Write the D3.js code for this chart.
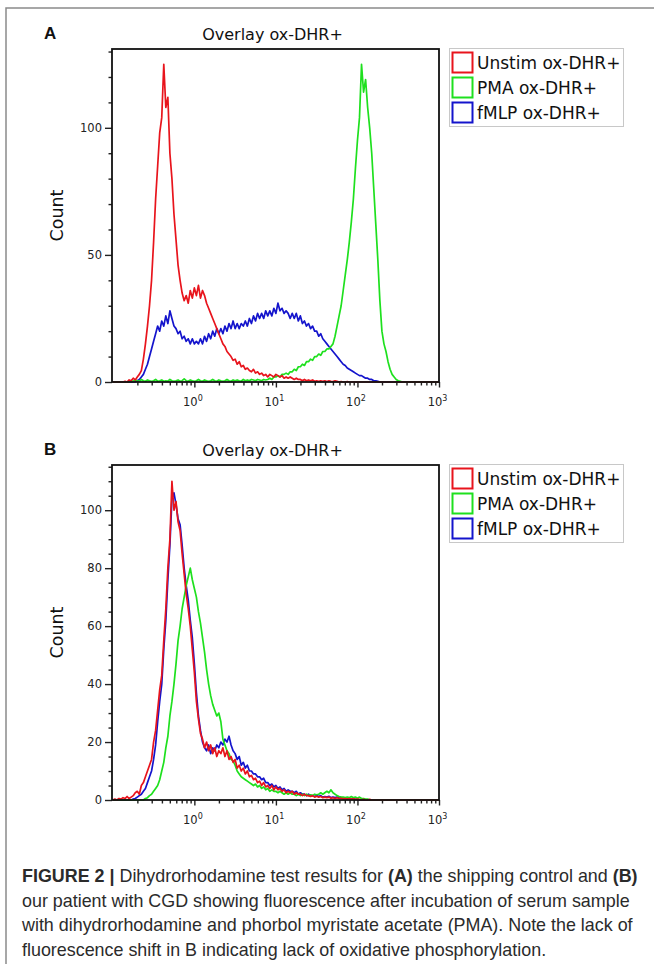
<!DOCTYPE html>
<html>
<head>
<meta charset="utf-8">
<script src="https://cdn.jsdelivr.net/npm/d3@7"></script>
<style>
  body { margin: 0; background: #fff; }
  svg { display: block; }
</style>
</head>
<body>
<svg id="fig" width="654" height="964"></svg>
<script>
// histogram channels: one bin every 0.025 decade, starting at 10^-1
const logStart = -1, logStep = 0.025;

const seriesNames = ["Unstim ox-DHR+", "PMA ox-DHR+", "fMLP ox-DHR+"];
const seriesColors = ["#e8141c", "#1ee01e", "#1414cc"];

// panel A - shipping control
const unstimA = [
  0,0,0,0,0,0,0.3,0,0.8,0.5,
  1.5,0.8,2,3,4.5,9,15,22,30,40,
  55,72,85,98,104,125,108,112,90,80,
  66,56,46,40,35,32,34,31,36,33,
  37,34,38,33,36,34,31,29,27,25,
  23,21,19,17,15,14,12,11,10,8.5,
  9,7,8,6,6.5,5,5.5,4.5,4,5,
  3.5,4,3,3.5,2.5,3,2,3,2.5,2,
  3,2.5,2,2.5,1.5,2,1.5,2,1.5,1,
  1.5,1,1,0.5,1,0.5,0.8,0.5,0.8,0.3,
  0.5,0.3,0.5,0.3,0.5,0.2,0.5,0.3,0.2,0.5,
  0.3,0,0.2,0,0,0.2,0,0,0,0,
  0,0,0,0,0,0,0,0,0,0,
  0,0,0,0,0,0,0,0,0,0,
  0,0,0,0,0,0,0,0,0,0,
  0,0,0,0,0,0,0,0,0,0,
  0
];
const pmaA = [
  0,0,0,0,0,0,0,0,0.3,0.5,
  0.3,0.8,0.5,0.3,1,0.5,0.3,0.8,0.5,0.3,
  0.5,1,0.3,0.5,0.8,0.3,0.5,0.3,1,0.5,
  0.3,0.5,0.8,0.3,0.5,1.2,0.5,0.3,0.8,0.5,
  0.3,0.5,1,0.5,0.3,0.8,0.5,0.3,0.5,1,
  0.5,0.3,0.8,0.5,0.3,0.5,1,0.5,0.3,0.8,
  0.5,0.8,0.5,0.3,1,0.5,0.8,0.5,1,0.8,
  0.5,1,0.8,0.5,1,0.8,1,1.5,1,2,
  2,2.5,2,3,3,3.5,3,4,4,5,
  4.5,6,6,7,6.5,8,8,9,8.5,10,
  10,11,10.5,12,12,13,13,14,15,18,
  22,26,30,36,42,48,55,63,72,84,
  95,104,125,114,119,108,100,90,76,62,
  48,32,20,15,12,8,5,3,2,1,
  0.5,0.3,0,0,0,0,0,0,0,0,
  0,0,0,0,0,0,0,0,0,0,
  0
];
const fmlpA = [
  0,0,0,0,0,0,0,0,0,0,
  0,0,0.5,1,2,3,5,7,10,13,
  16,19,22,20,24,22,26,23,28,25,
  22,21,19,20,17,18,16,17,15,17,
  15,16,15,17,15,18,16,19,17,20,
  18,21,19,21,19,22,20,23,21,24,
  21,23,21,23,22,24,22,25,23,26,
  24,27,25,27,25,28,26,28,26,29,
  27,31,28,29,27,28,27,25,27,25,
  27,24,26,23,24,22,23,21,22,20,
  20,18,19,17,16,15,14,13,12,11,
  10,9,8,7,6.5,5.5,5,4.5,4,3.5,
  3,2.5,2.5,2,1.5,1.5,1,1,0.5,0.5,
  0.3,0,0,0,0,0,0,0,0,0,
  0,0,0,0,0,0,0,0,0,0,
  0,0,0,0,0,0,0,0,0,0,
  0
];

// panel B - patient with CGD
const unstimB = [
  0,0.3,0,0.5,0.3,0.8,0.5,1.2,0.5,1,
  1.5,2.5,3,2,5,6,8,10,12,14,
  20,24,31,38,43,55,66,80,90,110,
  100,103,96,93,85,78,71,66,60,52,
  44,34,28,23,21,18,20,17,19,16,
  18,15,17,16,18,15,17,14,15,13,
  14,11,12,10,11,9,10,8,8.5,7,
  7.5,6,6.5,5,6,4.5,5,4,5,3.5,
  4.5,3.5,4,3,3.5,2.5,3,2.5,3,2,
  2.5,2,2,1.5,2,1.5,1.5,1.2,1.5,1,
  1.3,1,1.2,0.8,1,0.8,1,0.6,0.8,0.5,
  0.8,0.5,0.6,0.4,0.5,0.3,0.5,0.3,0.4,0.2,
  0.3,0.2,0,0.2,0,0,0.2,0,0,0,
  0,0,0,0,0,0,0,0,0,0,
  0,0,0,0,0,0,0,0,0,0,
  0,0,0,0,0,0,0,0,0,0,
  0
];
const pmaB = [
  0,0,0,0,0,0,0,0,0,0,
  0,0,0,0,0,0,0.5,0.8,1.5,2,
  3,4,5,7,10,13,18,22,29,34,
  40,47,55,60,66,70,74,77,80,76,
  73,70,65,61,56,51,45,40,36,33,
  31,29,30,27,21,19,17,16,14,13.5,
  12,10,9,8,7.5,7,6.5,6,5.5,5,
  5.5,4.5,5,4,4.5,3.5,4,3,3.5,3,
  3,2.5,3,2.5,2,2.5,2,2.5,2,2,
  1.5,2,1.5,2,1.5,2,1.5,1.8,1.5,2,
  1.8,2,2.5,2,2.5,3,2.5,3.5,2.5,2,
  1.5,1.2,1,1,0.8,1,0.8,1.2,0.8,1,
  0.6,1,0.5,0.5,0.3,0.3,0,0,0,0,
  0,0,0,0,0,0,0,0,0,0,
  0,0,0,0,0,0,0,0,0,0,
  0,0,0,0,0,0,0,0,0,0,
  0
];
const fmlpB = [
  0,0,0,0,0,0,0,0,0,0,
  0.3,0.5,1,1.5,2,3,4,6,8,10,
  14,19,27,34,40,52,62,76,88,104,
  106,102,97,95,88,80,74,69,62,56,
  47,37,29,24,20,18,17,19,16,18,
  17,19,18,20,19,21,20,22,19,17,
  16,14,15,12,13,11,12,10,10,9,
  9,8,8,7,7.5,6,6,5,5.5,4.5,
  5,4,4.5,3.5,4,3,3.5,3,3,2.5,
  3,2,2.5,2,2,1.5,2,1.5,1.5,1.2,
  1.5,1.2,1.5,1,1.2,1,1.3,0.8,1,0.8,
  1,0.6,0.8,0.5,0.6,0.4,0.5,0.3,0.4,0.2,
  0.3,0,0,0,0,0,0,0,0,0,
  0,0,0,0,0,0,0,0,0,0,
  0,0,0,0,0,0,0,0,0,0,
  0,0,0,0,0,0,0,0,0,0,
  0
];

const panels = [
  { label: "A", top: 49, bottom: 382, yMax: 131, yMajor: [0, 50, 100], yMinorStep: 10,
    series: [unstimA, pmaA, fmlpA] },
  { label: "B", top: 465, bottom: 800, yMax: 115.6, yMajor: [0, 20, 40, 60, 80, 100], yMinorStep: 5,
    series: [unstimB, pmaB, fmlpB] }
];

const captionLines = [
  [["FIGURE 2 | ", true], ["Dihydrorhodamine test results for ", false], ["(A)", true],
   [" the shipping control and ", false], ["(B)", true]],
  [["our patient with CGD showing fluorescence after incubation of serum sample", false]],
  [["with dihydrorhodamine and phorbol myristate acetate (PMA). Note the lack of", false]],
  [["fluorescence shift in B indicating lack of oxidative phosphorylation.", false]]
];

const svg = d3.select("#fig");
const plotLeft = 112, plotRight = 439;
const font = "DejaVu Sans, Verdana, sans-serif";

// thin frame round the figure
svg.append("path")
  .attr("d", "M6,964V8H654")
  .attr("fill", "none")
  .attr("stroke", "#8a8a8a")
  .attr("stroke-width", 1.5);

function drawPanel(p) {
  const g = svg.append("g");
  const x = d3.scaleLog().domain([Math.pow(10, -1.01), 1000]).range([plotLeft, plotRight]);
  const y = d3.scaleLinear().domain([0, p.yMax]).range([p.bottom, p.top]);

  // panel letter + title
  g.append("text")
    .attr("x", 44).attr("y", p.top - 10.5)
    .attr("font-family", "Liberation Sans, Arial, sans-serif")
    .attr("font-weight", "bold").attr("font-size", 17)
    .attr("fill", "#111")
    .text(p.label);
  g.append("text")
    .attr("x", 272.5).attr("y", p.top - 9)
    .attr("text-anchor", "middle")
    .attr("font-family", font).attr("font-size", 16)
    .attr("fill", "#111")
    .text("Overlay ox-DHR+");

  // y axis: major + minor ticks
  const yMinor = d3.range(0, p.yMax, p.yMinorStep).filter(v => !p.yMajor.includes(v));
  g.append("g")
    .attr("transform", `translate(${plotLeft},0)`)
    .call(d3.axisLeft(y).tickValues(yMinor).tickSize(3.5).tickFormat(""))
    .call(a => a.select(".domain").remove());
  const yAx = g.append("g")
    .attr("transform", `translate(${plotLeft},0)`)
    .call(d3.axisLeft(y).tickValues(p.yMajor).tickSize(7).tickPadding(3))
    .call(a => a.select(".domain").remove());
  yAx.selectAll("text").attr("font-family", font).attr("font-size", 11.5).attr("fill", "#222");

  // x axis: decades + 2..9 minor ticks
  const xMinor = [];
  [-1, 0, 1, 2].forEach(k => d3.range(2, 10).forEach(m => xMinor.push(m * Math.pow(10, k))));
  g.append("g")
    .attr("transform", `translate(0,${p.bottom})`)
    .call(d3.axisBottom(x).tickValues(xMinor).tickSize(3.5).tickFormat(""))
    .call(a => a.select(".domain").remove());
  const xAx = g.append("g")
    .attr("transform", `translate(0,${p.bottom})`)
    .call(d3.axisBottom(x).tickValues([1, 10, 100, 1000]).tickSize(5.5).tickPadding(10))
    .call(a => a.select(".domain").remove());
  xAx.selectAll(".tick text").each(function(d) {
    const t = d3.select(this).text(null)
      .attr("font-family", font).attr("font-size", 11.5).attr("fill", "#222")
      .attr("dx", "-2");
    t.append("tspan").text("10");
    t.append("tspan").attr("dy", "-5").attr("font-size", 8).text(Math.round(Math.log10(d)));
  });
  g.selectAll(".tick line").attr("stroke", "#222").attr("stroke-width", 1.4);

  // y title
  g.append("text")
    .attr("transform", `translate(63,${(p.top + p.bottom) / 2})rotate(-90)`)
    .attr("text-anchor", "middle")
    .attr("font-family", font).attr("font-size", 17.5)
    .attr("fill", "#111")
    .text("Count");

  // histograms, red drawn last so it sits on top
  const line = d3.line()
    .x((v, i) => x(Math.pow(10, logStart + i * logStep)))
    .y(v => y(v));
  [2, 1, 0].forEach(s => {
    g.append("path")
      .datum(p.series[s])
      .attr("d", line)
      .attr("fill", "none")
      .attr("stroke", seriesColors[s])
      .attr("stroke-width", 1.7)
      .attr("stroke-linejoin", "round");
  });

  // plot frame
  g.append("rect")
    .attr("x", plotLeft).attr("y", p.top)
    .attr("width", plotRight - plotLeft).attr("height", p.bottom - p.top)
    .attr("fill", "none").attr("stroke", "#111").attr("stroke-width", 1.8);

  // legend
  const lg = g.append("g").attr("transform", `translate(449,${p.top - 1})`);
  lg.append("rect")
    .attr("x", 0.5).attr("y", 0.5).attr("width", 174).attr("height", 78)
    .attr("fill", "#fff").attr("stroke", "#c8c8c8");
  seriesNames.forEach((name, k) => {
    lg.append("rect")
      .attr("x", 3.5).attr("y", 4.5 + k * 25).attr("width", 20).attr("height", 20)
      .attr("fill", "none").attr("stroke", seriesColors[k]).attr("stroke-width", 2);
    lg.append("text")
      .attr("x", 28).attr("y", 21 + k * 25)
      .attr("font-family", font).attr("font-size", 17)
      .attr("fill", "#111")
      .text(name);
  });
}

panels.forEach(drawPanel);

// caption
const cap = svg.append("g")
  .attr("font-family", "Liberation Sans, Arial, sans-serif")
  .attr("font-size", 17.9)
  .attr("fill", "#2b2b2b");
captionLines.forEach((parts, i) => {
  const t = cap.append("text").attr("x", 22).attr("y", 882 + i * 24.6);
  parts.forEach(([s, bold]) => {
    t.append("tspan").attr("font-weight", bold ? "bold" : null).text(s);
  });
});
</script>
</body>
</html>
